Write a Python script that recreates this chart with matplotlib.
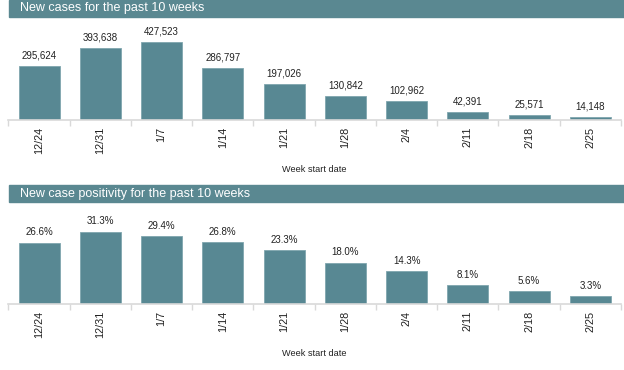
import matplotlib.pyplot as plt
from matplotlib.patches import Rectangle
import numpy as np

weeks = ['12/24', '12/31', '1/7', '1/14', '1/21', '1/28', '2/4', '2/11', '2/18', '2/25']
new_cases = [295624, 393638, 427523, 286797, 197026, 130842, 102962, 42391, 25571, 14148]
positivity = [26.6, 31.3, 29.4, 26.8, 23.3, 18.0, 14.3, 8.1, 5.6, 3.3]

bar_color = '#588893'
bar_edge = '#7fa6ae'
head_color = '#5a8891'
grid_gray = '#d9d9d9'

plt.rcParams['font.family'] = ['Liberation Sans', 'DejaVu Sans']

W, H = 624, 370
fig = plt.figure(figsize=(W / 100, H / 100), dpi=100)


def px_axes(x0, y0, x1, y1):
    # pixel box (top-left origin) -> figure axes
    return fig.add_axes([x0 / W, 1 - y1 / H, (x1 - x0) / W, (y1 - y0) / H])


def header(y0, y1, text):
    fig.patches.append(Rectangle((9 / W, 1 - y1 / H), (W - 9) / W, (y1 - y0) / H,
                                 transform=fig.transFigure, color=head_color, zorder=0))
    fig.text(20 / W, 1 - (y0 + y1) / 2 / H, text, color='white', fontsize=9,
             va='center', ha='left')


def bar_panel(ax, values, labels, ymax):
    x = np.arange(len(values))
    ax.bar(x, values, width=0.67, color=bar_color, edgecolor=bar_edge, linewidth=0.6)
    for xi, v, lab in zip(x, values, labels):
        ax.annotate(lab, (xi, v), xytext=(0, 4), textcoords='offset points',
                    ha='center', va='bottom', fontsize=7, color='#222222')
    ax.set_xlim(-0.5, len(values) - 0.5)
    ax.set_ylim(0, ymax)
    for s in ['top', 'right', 'left']:
        ax.spines[s].set_visible(False)
    ax.spines['bottom'].set_color(grid_gray)
    ax.spines['bottom'].set_linewidth(1.2)
    ax.set_yticks([])
    ax.set_xticks(x)
    ax.set_xticklabels(weeks, rotation=90, fontsize=7.8, color='#222222')
    ax.tick_params(axis='x', which='major', length=0, pad=5)
    ax.set_xticks(np.arange(len(values) + 1) - 0.5, minor=True)
    ax.tick_params(axis='x', which='minor', length=4, color=grid_gray, width=1)
    ax.set_xlabel('Week start date', fontsize=6.6, color='#222222', labelpad=8)


header(0, 17, 'New cases for the past 10 weeks')
ax1 = px_axes(8.4, 18, 621, 120)
bar_panel(ax1, new_cases, [f'{v:,}' for v in new_cases], 559000)

header(185, 202, 'New case positivity for the past 10 weeks')
ax2 = px_axes(8.4, 203, 621, 304)
bar_panel(ax2, positivity, [f'{v:.1f}%' for v in positivity], 43.9)

fig.savefig('out.png', dpi=100)
